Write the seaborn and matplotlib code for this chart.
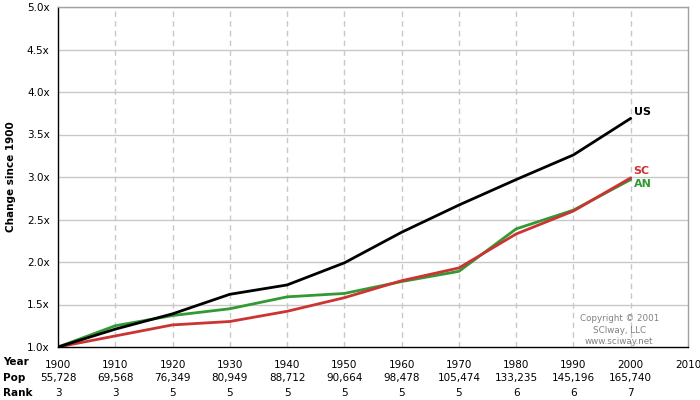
import pandas as pd
import numpy as np
import matplotlib.pyplot as plt
import seaborn as sns
from matplotlib import transforms

# Data: population change since 1900
years = [1900, 1910, 1920, 1930, 1940, 1950, 1960, 1970, 1980, 1990, 2000]
us = [1.00, 1.21, 1.39, 1.62, 1.73, 1.99, 2.35, 2.67, 2.97, 3.26, 3.69]
sc = [1.00, 1.13, 1.26, 1.30, 1.42, 1.58, 1.78, 1.93, 2.33, 2.60, 2.99]
an = [1.00, 1.25, 1.37, 1.45, 1.59, 1.63, 1.77, 1.89, 2.39, 2.61, 2.97]
pop = ['55,728', '69,568', '76,349', '80,949', '88,712', '90,664',
       '98,478', '105,474', '133,235', '145,196', '165,740']
rank = ['3', '3', '5', '5', '5', '5', '5', '5', '6', '6', '7']
tick_years = list(range(1900, 2011, 10))

colors = {'US': '#000000', 'SC': '#cc3333', 'AN': '#339933'}

df = pd.DataFrame({
    'year': years * 3,
    'change': us + sc + an,
    'series': ['US'] * len(years) + ['SC'] * len(years) + ['AN'] * len(years),
})

sns.set_style('white')
plt.rcParams['font.family'] = ['DejaVu Sans']
plt.rcParams['text.color'] = 'black'
plt.rcParams['axes.labelcolor'] = 'black'
plt.rcParams['xtick.color'] = 'black'
plt.rcParams['ytick.color'] = 'black'

fig = plt.figure(figsize=(7, 4), dpi=100)
ax = fig.add_axes([58 / 700, 53 / 400, 630 / 700, 340 / 400])

# grid
for yv in np.arange(1.5, 5.01, 0.5):
    ax.axhline(yv, color='#c8c8c8', lw=1, zorder=0)
for xv in tick_years[1:-1]:
    ax.axvline(xv, color='#c8c8c8', lw=1, ls=(0, (4, 3)), zorder=0)

sns.lineplot(data=df, x='year', y='change', hue='series',
             hue_order=['AN', 'SC', 'US'], palette=colors,
             lw=2, legend=False, ax=ax)

ax.set_xlim(1900, 2010)
ax.set_ylim(1.0, 5.0)
ax.set_yticks(np.arange(1.0, 5.01, 0.5))
ax.set_yticklabels([f'{v:.1f}x' for v in np.arange(1.0, 5.01, 0.5)], fontsize=7.5)
ax.set_xticks(tick_years)
ax.set_xticklabels(tick_years, fontsize=7.5)
ax.tick_params(axis='both', length=4, width=1, color='black', pad=2)
ax.tick_params(axis='x', pad=5)
ax.set_xlabel('')
ax.set_ylabel('Change since 1900', fontsize=7.5, fontweight='bold')
ax.yaxis.set_label_coords(-42 / 630, 0.5)

ax.spines['left'].set_color('black')
ax.spines['bottom'].set_color('black')
ax.spines['top'].set_color('#a0a0a0')
ax.spines['right'].set_color('#a0a0a0')
for s in ax.spines.values():
    s.set_linewidth(1)

# end labels
ax.text(2000.5, us[-1] + 0.02, 'US', color=colors['US'], fontsize=8, fontweight='bold', va='bottom')
ax.text(2000.5, sc[-1] + 0.02, 'SC', color=colors['SC'], fontsize=8, fontweight='bold', va='bottom')
ax.text(2000.5, an[-1] + 0.01, 'AN', color=colors['AN'], fontsize=8, fontweight='bold', va='top')

# copyright
ax.text(1998, 1.01, 'Copyright \u00a9 2001\nSCIway, LLC\nwww.sciway.net',
        color='#808080', fontsize=6.3, ha='center', va='bottom', linespacing=1.35)

# table rows below the axis
trans = transforms.blended_transform_factory(ax.transData, fig.transFigure)
for i, yr in enumerate(years):
    ax.text(yr, 22 / 400, pop[i], transform=trans, ha='center', va='center', fontsize=7.5)
    ax.text(yr, 7 / 400, rank[i], transform=trans, ha='center', va='center', fontsize=7.5)
fig.text(3 / 700, 38 / 400, 'Year', fontsize=7.5, fontweight='bold', va='center')
fig.text(3 / 700, 22 / 400, 'Pop', fontsize=7.5, fontweight='bold', va='center')
fig.text(3 / 700, 7 / 400, 'Rank', fontsize=7.5, fontweight='bold', va='center')

fig.savefig('out.png', dpi=100, facecolor='white')
